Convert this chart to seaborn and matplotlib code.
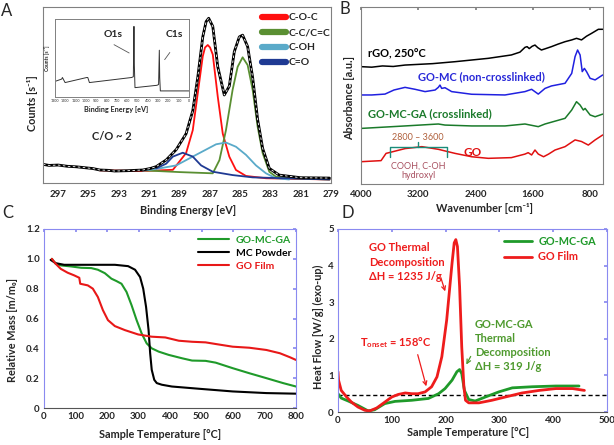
import numpy as np
import pandas as pd
import matplotlib
matplotlib.use('Agg')
import matplotlib.pyplot as plt
import seaborn as sns
from matplotlib.lines import Line2D

sns.set_theme(style='white')
plt.rcParams['font.family'] = ['Lato', 'DejaVu Sans']
plt.rcParams['mathtext.default'] = 'regular'

# ---------------- DATA ----------------
# Panel A: XPS C1s (binding energy eV, normalized counts)
xps_env_x = [298.0, 297.6, 297.0, 296.4, 295.8, 295.25, 294.7, 294.26, 293.7, 293.27, 292.4, 291.41, 290.9, 290.53, 289.87, 289.21, 288.56, 288.12, 287.79, 287.46, 287.24, 287.07, 286.80, 286.47, 286.04, 285.71, 285.38, 285.05, 284.83, 284.50, 284.17, 283.84, 283.51, 283.07, 282.42, 281.0, 279.1]
xps_env_y = [0.106, 0.100, 0.102, 0.095, 0.092, 0.087, 0.082, 0.074, 0.072, 0.068, 0.070, 0.074, 0.083, 0.093, 0.131, 0.19, 0.28, 0.41, 0.60, 0.83, 0.917, 0.936, 0.89, 0.66, 0.50, 0.55, 0.746, 0.83, 0.84, 0.775, 0.60, 0.36, 0.197, 0.083, 0.045, 0.030, 0.028]
xps_coc_x = [294.26, 291.41, 289.43, 288.56, 288.12, 287.79, 287.46, 287.31, 287.13, 286.98, 286.80, 286.47, 286.14, 285.71, 285.27, 284.61, 283.29, 279.1]
xps_coc_y = [0.072, 0.068, 0.075, 0.17, 0.30, 0.51, 0.72, 0.77, 0.784, 0.77, 0.73, 0.49, 0.28, 0.15, 0.074, 0.04, 0.027, 0.02]
xps_cc_x = [291.41, 289.0, 286.80, 286.36, 285.93, 285.49, 285.16, 284.83, 284.50, 284.17, 283.84, 283.51, 283.07, 282.64, 281.76, 279.1]
xps_cc_y = [0.072, 0.062, 0.055, 0.13, 0.30, 0.53, 0.66, 0.714, 0.67, 0.53, 0.32, 0.17, 0.064, 0.036, 0.027, 0.02]
xps_coh_x = [291.41, 290.31, 289.21, 288.12, 287.24, 286.58, 285.93, 285.27, 284.61, 283.95, 283.29, 282.64, 281.76]
xps_coh_y = [0.07, 0.083, 0.10, 0.15, 0.19, 0.22, 0.23, 0.206, 0.16, 0.10, 0.055, 0.027, 0.02]
xps_co_x = [290.53, 289.87, 289.43, 288.78, 288.12, 287.57, 286.80, 285.49, 284.17, 279.1]
xps_co_y = [0.083, 0.11, 0.15, 0.172, 0.15, 0.10, 0.064, 0.045, 0.032, 0.02]
xps_labels = ['C-O-C', 'C-C/C=C', 'C-OH', 'C=O']
xps_colors = ['#ff1010', '#5a8f32', '#5aaac9', '#1f3a93']

# Inset survey spectrum
survey_x = [1300, 1235, 1228, 1202, 992, 982, 966, 557, 540, 534, 530, 524, 311, 295, 288, 284, 278, 0]
survey_y = [0.20, 0.23, 0.25, 0.185, 0.25, 0.25, 0.185, 0.25, 0.26, 0.905, 0.40, 0.12, 0.15, 0.16, 0.60, 0.25, 0.078, 0.078]
survey_ticks = [1300, 1200, 1100, 1000, 900, 800, 700, 600, 500, 400, 300, 200, 100, 0]

# Panel B: FTIR (wavenumber, offset absorbance)
ftir_rgo_x = [4000, 3850, 3700, 3550, 3385, 3000, 2687, 2222, 1900, 1780, 1710, 1680, 1650, 1610, 1570, 1530, 1480, 1420, 1340, 1250, 1150, 1057, 990, 950, 920, 850, 780, 685, 624]
ftir_rgo_y = [0.663, 0.660, 0.667, 0.664, 0.672, 0.68, 0.691, 0.71, 0.729, 0.745, 0.772, 0.776, 0.765, 0.778, 0.785, 0.77, 0.757, 0.765, 0.776, 0.79, 0.804, 0.814, 0.823, 0.818, 0.814, 0.835, 0.851, 0.874, 0.874]
ftir_gomc_x = [4000, 3851, 3665, 3540, 3385, 3245, 3105, 2965, 2920, 2897, 2873, 2827, 2734, 2454, 1989, 1710, 1617, 1524, 1430, 1340, 1150, 1057, 1010, 975, 940, 910, 880, 850, 800, 730, 624]
ftir_gomc_y = [0.503, 0.503, 0.508, 0.531, 0.546, 0.535, 0.522, 0.531, 0.546, 0.559, 0.540, 0.544, 0.522, 0.507, 0.503, 0.522, 0.535, 0.508, 0.540, 0.554, 0.569, 0.625, 0.72, 0.757, 0.729, 0.635, 0.653, 0.635, 0.597, 0.588, 0.616]
ftir_gomcga_x = [4000, 3385, 2920, 2827, 2454, 1989, 1710, 1524, 1430, 1150, 1057, 990, 940, 895, 870, 800, 730, 624]
ftir_gomcga_y = [0.314, 0.328, 0.339, 0.333, 0.328, 0.328, 0.339, 0.324, 0.339, 0.371, 0.418, 0.465, 0.446, 0.418, 0.427, 0.39, 0.38, 0.395]
ftir_go_x = [4000, 3720, 3650, 3580, 3385, 3150, 2920, 2687, 2454, 2222, 1900, 1710, 1665, 1617, 1570, 1524, 1450, 1380, 1290, 1150, 1010, 920, 825, 730, 624]
ftir_go_y = [0.126, 0.132, 0.173, 0.18, 0.20, 0.211, 0.196, 0.173, 0.154, 0.145, 0.149, 0.169, 0.177, 0.164, 0.192, 0.169, 0.154, 0.169, 0.192, 0.211, 0.249, 0.24, 0.22, 0.249, 0.277]
ftir_ticks = [4000, 3200, 2400, 1600, 800]

# Panel C: TGA (temperature C, relative mass)
tga_gomcga_x = [25, 37, 53, 86, 118, 150, 171, 193, 214, 230, 246, 262, 278, 294, 310, 326, 342, 364, 396, 439, 470, 513, 545, 599, 652, 706, 759, 800]
tga_gomcga_y = [1.0, 0.967, 0.956, 0.949, 0.94, 0.938, 0.927, 0.904, 0.867, 0.851, 0.833, 0.778, 0.689, 0.589, 0.50, 0.433, 0.40, 0.378, 0.356, 0.333, 0.318, 0.316, 0.304, 0.267, 0.233, 0.20, 0.167, 0.144]
tga_mc_x = [21, 37, 64, 171, 225, 267, 289, 305, 315, 324, 332, 337, 342, 350, 358, 374, 406, 492, 599, 706, 800]
tga_mc_y = [0.993, 0.971, 0.96, 0.96, 0.96, 0.951, 0.927, 0.878, 0.80, 0.678, 0.522, 0.367, 0.256, 0.189, 0.167, 0.156, 0.144, 0.129, 0.111, 0.10, 0.096]
tga_go_x = [25, 37, 53, 75, 96, 112, 115, 139, 155, 171, 187, 203, 225, 257, 299, 342, 385, 428, 470, 513, 545, 599, 652, 706, 749, 781, 800]
tga_go_y = [1.0, 0.967, 0.933, 0.907, 0.889, 0.873, 0.833, 0.822, 0.80, 0.744, 0.656, 0.589, 0.549, 0.522, 0.493, 0.478, 0.473, 0.451, 0.444, 0.44, 0.429, 0.411, 0.404, 0.389, 0.367, 0.34, 0.322]
tga_labels = ['GO-MC-GA', 'MC Powder', 'GO Film']

# Panel D: DSC (temperature C, heat flow W/g)
dsc_go_x = [0, 1, 6, 16, 25, 37, 50, 59, 72, 87, 100, 112, 125, 137, 149, 162, 174, 184, 193, 202, 212, 216, 219, 222, 226, 230, 234, 237, 243, 262, 286, 311, 342, 374, 405, 436, 458]
dsc_go_y = [1.10, 0.87, 0.59, 0.41, 0.27, 0.137, 0.046, 0.03, 0.11, 0.27, 0.41, 0.48, 0.52, 0.50, 0.50, 0.55, 0.69, 0.96, 1.51, 2.51, 4.07, 4.62, 4.71, 4.52, 3.43, 1.78, 0.69, 0.32, 0.25, 0.25, 0.32, 0.41, 0.52, 0.59, 0.64, 0.64, 0.59]
dsc_gomcga_x = [0, 6, 19, 37, 56, 68, 87, 106, 137, 168, 187, 199, 212, 221, 226, 230, 235, 243, 255, 274, 299, 324, 361, 405, 448]
dsc_gomcga_y = [0.50, 0.38, 0.30, 0.18, 0.03, 0.06, 0.23, 0.29, 0.32, 0.37, 0.50, 0.64, 0.87, 1.10, 1.16, 1.05, 0.59, 0.34, 0.30, 0.41, 0.55, 0.66, 0.69, 0.71, 0.71]
dsc_baseline = 0.46
dsc_labels = ['GO-MC-GA', 'GO Film']

# ---------------- FIGURE ----------------
W, H = 614, 445
fig = plt.figure(figsize=(W / 100, H / 100), dpi=100)


def box(l, t, r, b):
    return [l / W, 1 - b / H, (r - l) / W, (b - t) / H]


def fp(x, y):
    return (x / W, 1 - y / H)


def line(ax, x, y, **kw):
    sns.lineplot(x=x, y=y, ax=ax, sort=False, estimator=None, legend=False, **kw)


def ftext(x, y, s, **kw):
    kw.setdefault('ha', 'center')
    kw.setdefault('va', 'center')
    fig.text(x / W, 1 - y / H, s, **kw)


TICKFS = 7.0
LABFS = 7.8
GRAY = '#808080'
BLUEFR = '#8a8af0'
BW = 'bold'

# ---- Panel A ----
axA = fig.add_axes(box(43, 7, 331, 183))
line(axA, xps_coc_x, xps_coc_y, color=xps_colors[0], linewidth=1.3)
line(axA, xps_cc_x, xps_cc_y, color=xps_colors[1], linewidth=1.3)
line(axA, xps_coh_x, xps_coh_y, color=xps_colors[2], linewidth=1.3)
line(axA, xps_co_x, xps_co_y, color=xps_colors[3], linewidth=1.3)
line(axA, xps_env_x, xps_env_y, color='black', linewidth=2.0)
line(axA, xps_env_x, xps_env_y, color='white', linewidth=0.6, linestyle=(0, (3, 3)))
axA.set_xlim(298, 279)
axA.set_ylim(0, 1)
axA.set_xticks(np.arange(297, 278, -2))
axA.set_yticks([])
axA.tick_params(axis='x', length=0, pad=5, labelsize=TICKFS)
for t in axA.get_xticklabels():
    t.set_fontweight(BW)
for s in axA.spines.values():
    s.set_color(GRAY)
    s.set_linewidth(0.8)
handles = [Line2D([0], [0], color=c, lw=4.5) for c in xps_colors]
legA = axA.legend(handles, xps_labels, loc='upper left', bbox_to_anchor=(0.745, 0.99),
                  frameon=False, handlelength=2.3, handletextpad=0.25, labelspacing=0.55,
                  prop={'size': 7.5, 'weight': BW}, borderaxespad=0)
ftext(112, 137, 'C/O ~ 2', fontsize=8, fontweight=BW)
ftext(33, 103, 'Counts [s⁻¹]', fontsize=LABFS, fontweight=BW, rotation=90)
ftext(188, 210, 'Binding Energy [eV]', fontsize=LABFS, fontweight=BW)
ftext(7, 11, 'A', fontsize=12)

# inset
axI = fig.add_axes(box(55, 19, 189, 97))
line(axI, survey_x, survey_y, color='#333333', linewidth=0.7)
axI.set_xlim(1300, 0)
axI.set_ylim(0, 1)
axI.set_xticks(survey_ticks)
axI.set_yticks([])
axI.tick_params(axis='x', length=0, pad=1.5, labelsize=2.6)
for s in axI.spines.values():
    s.set_color(GRAY)
    s.set_linewidth(0.7)
axI.text(739, 0.80, 'O1s', fontsize=7.5, fontweight=BW, ha='center', va='center')
axI.text(139, 0.80, 'C1s', fontsize=7.5, fontweight=BW, ha='center', va='center')
axI.annotate('', xy=(557, 0.547), xytext=(751, 0.688),
             arrowprops=dict(arrowstyle='-', color='#555555', lw=0.6))
axI.annotate('', xy=(252, 0.45), xytext=(170, 0.60),
             arrowprops=dict(arrowstyle='-', color='#555555', lw=0.6))
ftext(47, 58, 'Counts [s⁻¹]', fontsize=3.6, fontweight=BW, rotation=90)
ftext(116, 109, 'Binding Energy [eV]', fontsize=5.2, fontweight=BW)

# ---- Panel B ----
axB = fig.add_axes(box(361, 7, 603, 184))
line(axB, ftir_rgo_x, ftir_rgo_y, color='black', linewidth=1.1)
line(axB, ftir_gomc_x, ftir_gomc_y, color='#2020e0', linewidth=1.1)
line(axB, ftir_gomcga_x, ftir_gomcga_y, color='#1a7a2a', linewidth=1.1)
line(axB, ftir_go_x, ftir_go_y, color='#e01010', linewidth=1.1)
axB.set_xlim(4000, 620)
axB.set_ylim(0, 1)
axB.set_xticks(ftir_ticks)
axB.set_yticks([])
axB.tick_params(axis='x', direction='in', length=2, color=GRAY, top=True, pad=4, labelsize=TICKFS)
for t in axB.get_xticklabels():
    t.set_fontweight(BW)
for s in axB.spines.values():
    s.set_color(GRAY)
    s.set_linewidth(0.8)
ftext(368, 54, 'rGO, 250°C', fontsize=8, fontweight=BW, ha='left', color='black')
ftext(418, 77, 'GO-MC (non-crosslinked)', fontsize=8, fontweight=BW, ha='left', color='#2828d8')
ftext(368, 114, 'GO-MC-GA (crosslinked)', fontsize=8, fontweight=BW, ha='left', color='#1a7a2a')
ftext(473, 152, 'GO', fontsize=8.5, fontweight=BW, color='#e01010')
# bracket 2800-3600
bx0, bx1, bxm = 3600, 2800, 3200
axB.plot([bx0, bx0, bx1, bx1], [0.155, 0.210, 0.210, 0.155], color='#1a8c7a', lw=1.0)
axB.plot([bxm, bxm], [0.210, 0.235], color='#1a8c7a', lw=1.0)
ftext(418, 137, '2800 – 3600', fontsize=6.5, color='#b0603c')
ftext(418, 166, 'COOH, C-OH', fontsize=6.5, color='#a85060')
ftext(418, 175, 'hydroxyl', fontsize=6.5, color='#a85060')
ftext(350, 98, 'Absorbance [a.u.]', fontsize=LABFS, fontweight=BW, rotation=90)
ftext(485, 208, 'Wavenumber [cm⁻¹]', fontsize=LABFS, fontweight=BW)
ftext(345, 9, 'B', fontsize=12)

# ---- Panel C ----
axC = fig.add_axes(box(44, 229, 296, 408))
line(axC, tga_gomcga_x, tga_gomcga_y, color='#1f9a2a', linewidth=1.5)
line(axC, tga_mc_x, tga_mc_y, color='black', linewidth=1.5)
line(axC, tga_go_x, tga_go_y, color='#e81818', linewidth=1.5)
axC.set_xlim(0, 800)
axC.set_ylim(0, 1.2)
axC.set_xticks(np.arange(0, 801, 100))
axC.set_yticks([0, 0.2, 0.4, 0.6, 0.8, 1.0, 1.2])
axC.set_yticklabels(['0', '0.2', '0.4', '0.6', '0.8', '1.0', '1.2'])
axC.tick_params(direction='in', length=2, color=BLUEFR, top=True, right=True, labelsize=TICKFS, pad=3)
for t in axC.get_xticklabels() + axC.get_yticklabels():
    t.set_fontweight(BW)
for k, s in axC.spines.items():
    s.set_color('#555555' if k == 'bottom' else BLUEFR)
    s.set_linewidth(0.8)
hC = [Line2D([0], [0], color=c, lw=1.5) for c in ['#1f9a2a', 'black', '#e81818']]
legC = axC.legend(hC, tga_labels, loc='upper left', bbox_to_anchor=(0.595, 0.985), frameon=False,
                  handlelength=3.0, handletextpad=0.6, labelspacing=0.35,
                  prop={'size': 7.5, 'weight': BW}, borderaxespad=0)
for t, c in zip(legC.get_texts(), ['#1f9a2a', 'black', '#e81818']):
    t.set_color(c)
ftext(13, 330, 'Relative Mass [m/m₀]', fontsize=LABFS, fontweight=BW, rotation=90)
ftext(160, 435, 'Sample Temperature [°C]', fontsize=LABFS, fontweight=BW)
ftext(8, 213, 'C', fontsize=12)

# ---- Panel D ----
axD = fig.add_axes(box(338, 229, 607, 412))
axD.axhline(dsc_baseline, color='black', lw=1.0, ls=(0, (3, 2)))
line(axD, dsc_gomcga_x, dsc_gomcga_y, color='#1f9a2a', linewidth=2.0)
line(axD, dsc_go_x, dsc_go_y, color='#ee1c1c', linewidth=2.0)
axD.set_xlim(0, 500)
axD.set_ylim(0, 5)
axD.set_xticks(np.arange(0, 501, 100))
axD.set_yticks(np.arange(0, 6, 1))
axD.tick_params(direction='in', length=2, color=BLUEFR, top=True, right=True, labelsize=TICKFS, pad=3)
for t in axD.get_xticklabels() + axD.get_yticklabels():
    t.set_fontweight(BW)
for k, s in axD.spines.items():
    s.set_color('#555555' if k == 'bottom' else BLUEFR)
    s.set_linewidth(0.8)
hD = [Line2D([0], [0], color=c, lw=2.0) for c in ['#1f9a2a', '#ee1c1c']]
legD = axD.legend(hD, dsc_labels, loc='upper left', bbox_to_anchor=(0.60, 0.985), frameon=False,
                  handlelength=2.6, handletextpad=0.6, labelspacing=0.4,
                  prop={'size': 7.8, 'weight': BW}, borderaxespad=0)
for t, c in zip(legD.get_texts(), ['#1f9a2a', '#ee1c1c']):
    t.set_color(c)
RED = '#ee1c1c'
GRN = '#4e9a2e'
ftext(369, 248, 'GO Thermal', fontsize=8, fontweight=BW, ha='left', color=RED)
ftext(369, 263, 'Decomposition', fontsize=8, fontweight=BW, ha='left', color=RED)
ftext(369, 277, 'ΔH = 1235 J/g', fontsize=8, fontweight=BW, ha='left', color=RED)
ftext(360, 343, r'T$_{onset}$ = 158°C', fontsize=8, fontweight=BW, ha='left', color=RED)
ftext(475, 324, 'GO-MC-GA', fontsize=8, fontweight=BW, ha='left', color=GRN)
ftext(475, 338, 'Thermal', fontsize=8, fontweight=BW, ha='left', color=GRN)
ftext(475, 352, 'Decomposition', fontsize=8, fontweight=BW, ha='left', color=GRN)
ftext(475, 366, 'ΔH = 319 J/g', fontsize=8, fontweight=BW, ha='left', color=GRN)
fig.add_artist(matplotlib.patches.FancyArrowPatch(fp(440, 275), fp(446, 294), transform=fig.transFigure,
               arrowstyle='->', mutation_scale=7, color=RED, lw=0.9))
fig.add_artist(matplotlib.patches.FancyArrowPatch(fp(417, 352), fp(427, 389), transform=fig.transFigure,
               arrowstyle='->', mutation_scale=7, color=RED, lw=0.9))
fig.add_artist(matplotlib.patches.FancyArrowPatch(fp(472, 354), fp(465, 367), transform=fig.transFigure,
               arrowstyle='->', mutation_scale=7, color=GRN, lw=0.9))
ftext(318, 327, 'Heat Flow [W/g] (exo-up)', fontsize=LABFS, fontweight=BW, rotation=90)
ftext(468, 433, 'Sample Temperature [°C]', fontsize=LABFS, fontweight=BW)
ftext(348, 213, 'D', fontsize=12)

fig.savefig('out.png', dpi=100)
